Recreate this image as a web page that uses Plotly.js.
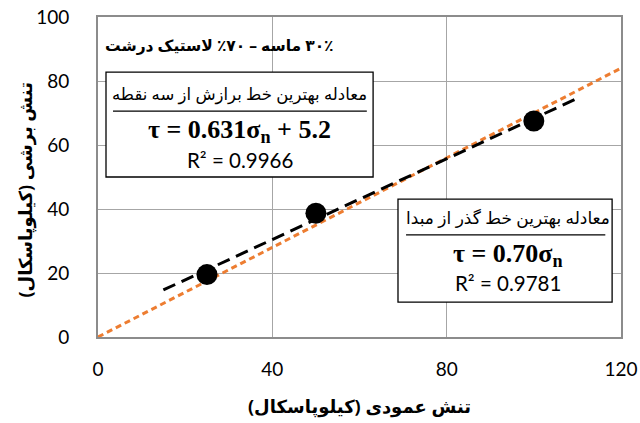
<!DOCTYPE html>
<html>
<head>
<meta charset="utf-8">
<script src="https://cdn.plot.ly/plotly-3.0.1.min.js"></script>
<style>html,body{margin:0;padding:0;background:#fff;}#chart{width:640px;height:423px;}</style>
</head>
<body>
<div id="chart"></div>
<script>
// Measured points
const normalStress = [25, 50, 100];
const shearStress = [19.5, 38.7, 67.5];
// Best-fit line through the three points (endpoints)
const fit3X = [15, 110];
const fit3Y = [14.7, 74.6];
// Best-fit line through the origin (endpoints)
const fit0X = [0, 120];
const fit0Y = [0, 84];
// Texts
const RLE = '\u202B', PDF = '\u202C';
const mixLabel = '۳۰٪ ماسه – ۷۰٪ لاستیک درشت';
const box1Title = 'معادله بهترین خط برازش از سه نقطه';
const box1Eq = 'τ = 0.631σ<sub>n</sub> + 5.2';
const box1R2 = 'R² = 0.9966';
const box2Title = 'معادله بهترین خط گذر از مبدا';
const box2Eq = 'τ = 0.70σ<sub>n</sub>';
const box2R2 = 'R² = 0.9781';
const xTitle = 'تنش عمودی (کیلوپاسکال)';
const yTitle = 'تنش برشی (کیلوپاسکال)';
const xTicks = [0, 40, 80, 120];
const yTicks = [0, 20, 40, 60, 80, 100];

const rtl = s => RLE + s + PDF;
const faFont = 'Noto Sans, DejaVu Sans, sans-serif';
const numFont = 'Lato, Carlito, sans-serif';

const traces = [
  {x: fit0X, y: fit0Y, mode: 'lines', line: {color: '#ED7D31', width: 3, dash: '6px,4px'}, hoverinfo: 'skip'},
  {x: fit3X, y: fit3Y, mode: 'lines', line: {color: '#000000', width: 3, dash: '13px,7px'}, hoverinfo: 'skip'},
  {x: normalStress, y: shearStress, mode: 'markers', marker: {color: '#000', size: 21}}
];

function ann(x, y, text, font) {
  return {xref: 'paper', yref: 'paper', x: x, y: y, xanchor: 'center', yanchor: 'middle',
          text: text, showarrow: false, font: font};
}

const layout = {
  width: 640, height: 423,
  margin: {l: 98, r: 19, t: 17, b: 86},
  showlegend: false,
  paper_bgcolor: '#fff', plot_bgcolor: '#fff',
  xaxis: {
    range: [0, 120], tickvals: xTicks, ticktext: xTicks.map(String),
    showgrid: true, gridcolor: '#A6A6A6', gridwidth: 1, zeroline: false,
    showline: true, linecolor: '#8C8C8C', linewidth: 2, mirror: true,
    ticks: '', ticklabelstandoff: 14,
    tickfont: {family: numFont, size: 19, color: '#000'},
    title: {text: rtl(xTitle), font: {family: faFont, size: 18, color: '#000', weight: 'bold'}, standoff: 22}
  },
  yaxis: {
    range: [0, 100], tickvals: yTicks, ticktext: yTicks.map(String),
    showgrid: true, gridcolor: '#A6A6A6', gridwidth: 1, zeroline: false,
    showline: true, linecolor: '#8C8C8C', linewidth: 2, mirror: true,
    ticks: '', ticklabelstandoff: 23,
    tickfont: {family: numFont, size: 19, color: '#000'}
  },
  shapes: [
    {type: 'rect', xref: 'paper', yref: 'paper', x0: 0.0153, x1: 0.526, y0: 0.5, y1: 0.828, line: {color: '#000', width: 1.3}, fillcolor: '#fff', layer: 'above'},
    {type: 'line', xref: 'paper', yref: 'paper', x0: 0.0287, x1: 0.514, y0: 0.706, y1: 0.706, line: {color: '#000', width: 1.3}, layer: 'above'},
    {type: 'rect', xref: 'paper', yref: 'paper', x0: 0.5736, x1: 0.983, y0: 0.109, y1: 0.431, line: {color: '#000', width: 1.3}, fillcolor: '#fff', layer: 'above'},
    {type: 'line', xref: 'paper', yref: 'paper', x0: 0.589, x1: 0.97, y0: 0.319, y1: 0.319, line: {color: '#000', width: 1.3}, layer: 'above'}
  ],
  annotations: [
    ann(-0.14, 0.46, rtl(yTitle), {family: faFont, size: 18, color: '#000', weight: 'bold'}),
    ann(0.233, 0.9125, rtl(mixLabel), {family: faFont, size: 15.5, color: '#000', weight: 'bold'}),
    ann(0.2715, 0.7625, rtl(box1Title), {family: faFont, size: 16.5, color: '#000'}),
    ann(0.2715, 0.645, box1Eq, {family: 'Liberation Serif, serif', size: 26, color: '#000', weight: 'bold'}),
    ann(0.2715, 0.553, box1R2, {family: numFont, size: 20.5, color: '#000'}),
    ann(0.7839, 0.372, rtl(box2Title), {family: faFont, size: 17, color: '#000'}),
    ann(0.7839, 0.256, box2Eq, {family: 'Liberation Serif, serif', size: 26, color: '#000', weight: 'bold'}),
    ann(0.7839, 0.169, box2R2, {family: numFont, size: 20.5, color: '#000'})
  ]
};
layout.annotations[0].textangle = -90;

Plotly.newPlot('chart', traces, layout, {displayModeBar: false, staticPlot: true});
</script>
</body>
</html>
